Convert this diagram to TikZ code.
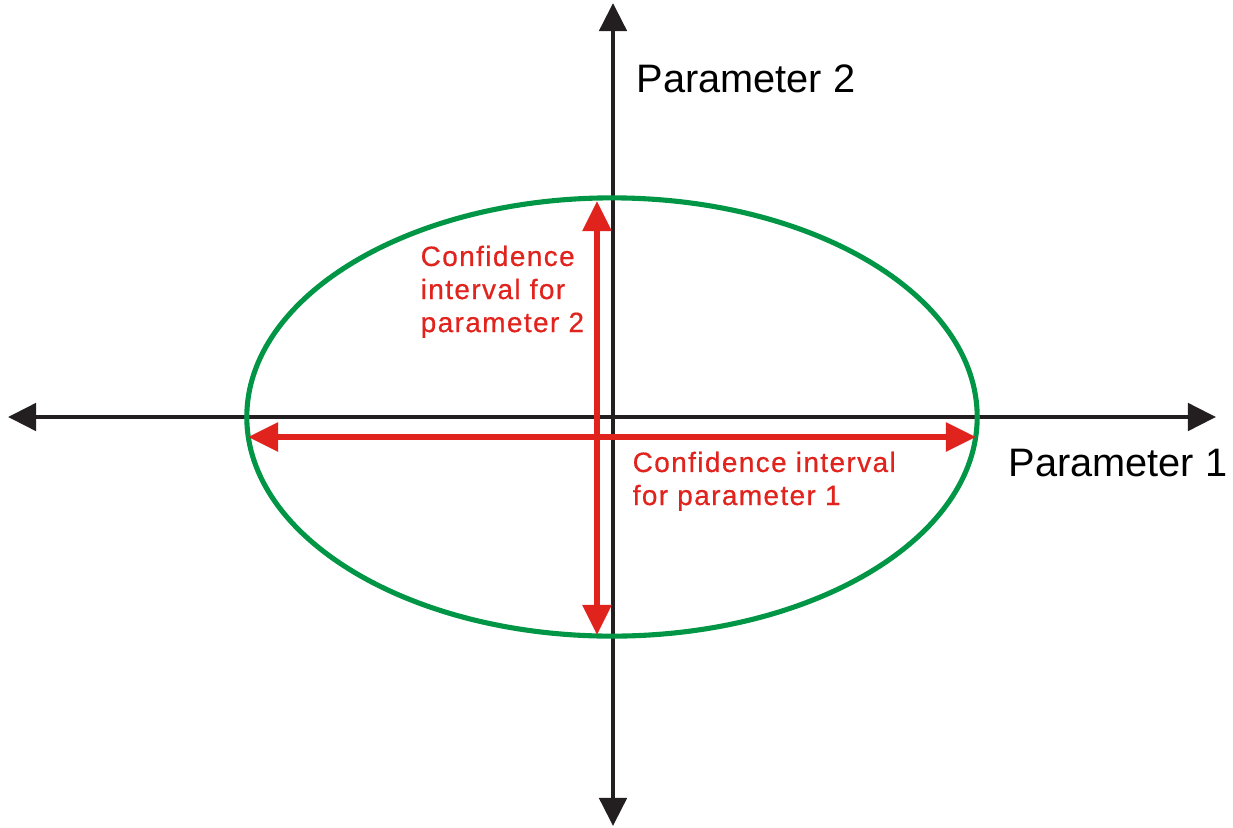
\documentclass[tikz,border=0pt]{standalone}
\usepackage{fontspec}
\setmainfont{Liberation Sans}
\usetikzlibrary{arrows.meta}
\definecolor{axisblack}{RGB}{35,31,32}
\definecolor{ellgreen}{RGB}{0,150,70}
\definecolor{cired}{RGB}{225,35,30}
\tikzset{
  axis/.style={axisblack, line width=1.35pt, {Triangle[length=0.28cm,width=0.27cm]}-{Triangle[length=0.28cm,width=0.27cm]}},
  ci/.style={cired, line width=1.65pt, {Triangle[length=0.3cm,width=0.28cm]}-{Triangle[length=0.3cm,width=0.28cm]}},
  axislabel/.style={anchor=base west, inner sep=0pt, font=\fontsize{11.3}{13}\selectfont},
  cilabel/.style={anchor=north west, inner sep=0pt, align=left, text=cired,
    font=\addfontfeatures{LetterSpace=5,FakeBold=0.6}\fontsize{7.95}{9.4}\selectfont}
}
\begin{document}
\begin{tikzpicture}[x=0.01cm, y=-0.01cm]
  \useasboundingbox (0,0) rectangle (1233,827);
  % axes and confidence region
  \coordinate (L) at (8,417);
  \coordinate (R) at (1216,417);
  \coordinate (T) at (613,3);
  \coordinate (B) at (613,826);
  \coordinate (O) at (612,417);

  \draw[axis] (L) -- (R);
  \draw[axis] (B) -- (T);
  \draw[ellgreen, line width=1.45pt] (O) ellipse [x radius=3.65cm, y radius=2.19cm];

  \coordinate (CL) at (248,437);
  \coordinate (CR) at (976,437);
  \coordinate (CT) at (597,201);
  \coordinate (CB) at (597,635);
  \draw[ci] (CL) -- (CR);
  \draw[ci] (CB) -- (CT);

  \node[axislabel] (p2) at (636,92) {Parameter 2};
  \node[axislabel] (p1) at (1008,476) {Parameter 1};
  \node[cilabel] (ci2) at (420,245) {Confidence\\interval for\\parameter 2};
  \node[cilabel] (ci1) at (632,451) {Confidence interval\\for parameter 1};
\end{tikzpicture}
\end{document}
